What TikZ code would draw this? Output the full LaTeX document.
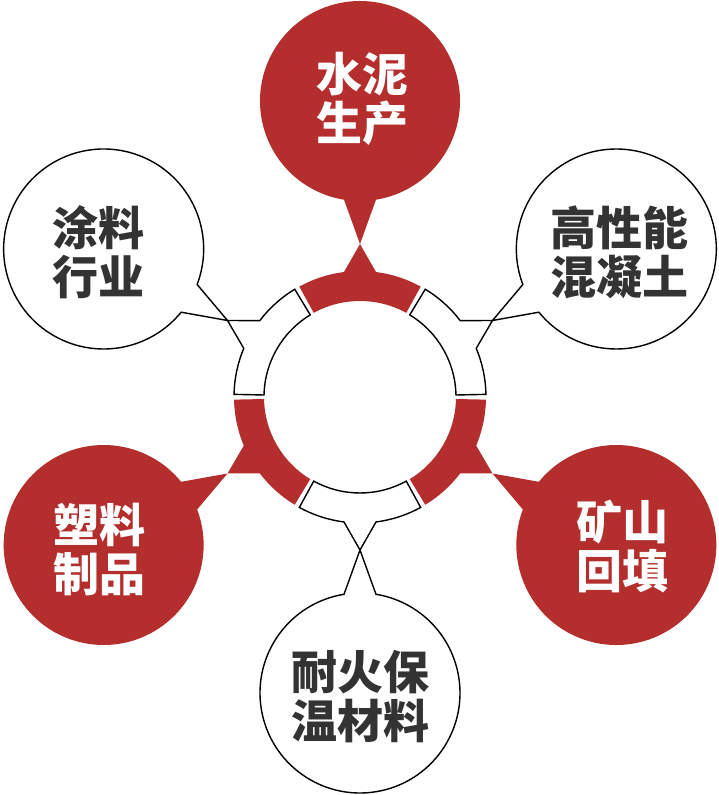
\documentclass[tikz,border=0pt]{standalone}
\usepackage{fontspec}
\newfontfamily\cjk{Noto Sans CJK SC}
\definecolor{brick}{HTML}{B52E2E}
\definecolor{ink}{HTML}{333333}
\tikzset{
  redpart/.style={fill=brick,draw=none},
  whitepart/.style={fill=white,draw=black,line width=1.4pt},
  bubbletext/.style={font=\cjk\bfseries\fontsize{46}{49}\selectfont,align=center,inner sep=0pt},
}
\begin{document}
\begin{tikzpicture}[x=1pt,y=1pt]
\useasboundingbox (-360,-398) rectangle (359,397);
\foreach \a/\kind/\col/\txt/\dx/\dy [count=\i] in {
    90/redpart/white/{水泥\\生产}/3/2,
    30/whitepart/ink/{高性能\\混凝土}/3/-3,
    -30/redpart/white/{矿山\\回填}/6/-2,
    -90/whitepart/ink/{耐火保\\温材料}/1/-4,
    -150/redpart/white/{塑料\\制品}/-4/-4,
    150/whitepart/ink/{涂料\\行业}/-5/-3}
{
  \coordinate (tip\i) at (\a:153);
  % ring piece
  \path[\kind] (\a-28.8:96) arc[start angle=\a-28.8, end angle=\a+28.8, radius=96]
    -- (\a+28.8:126) arc[start angle=\a+28.8, end angle=\a+7.3, radius=126]
    -- (tip\i) -- (\a-7.3:126) arc[start angle=\a-7.3, end angle=\a-28.8, radius=126] -- cycle;
  % bubble
  \path[\kind] (\a:296) ++(\a+189.2:100) arc[start angle=\a+189.2, end angle=\a+530.8, radius=100]
    -- (tip\i) -- cycle;
  \node[bubbletext,text=\col] (txt\i) at ([xshift=\dx,yshift=\dy]\a:296) {\txt};
}
\end{tikzpicture}
\end{document}
